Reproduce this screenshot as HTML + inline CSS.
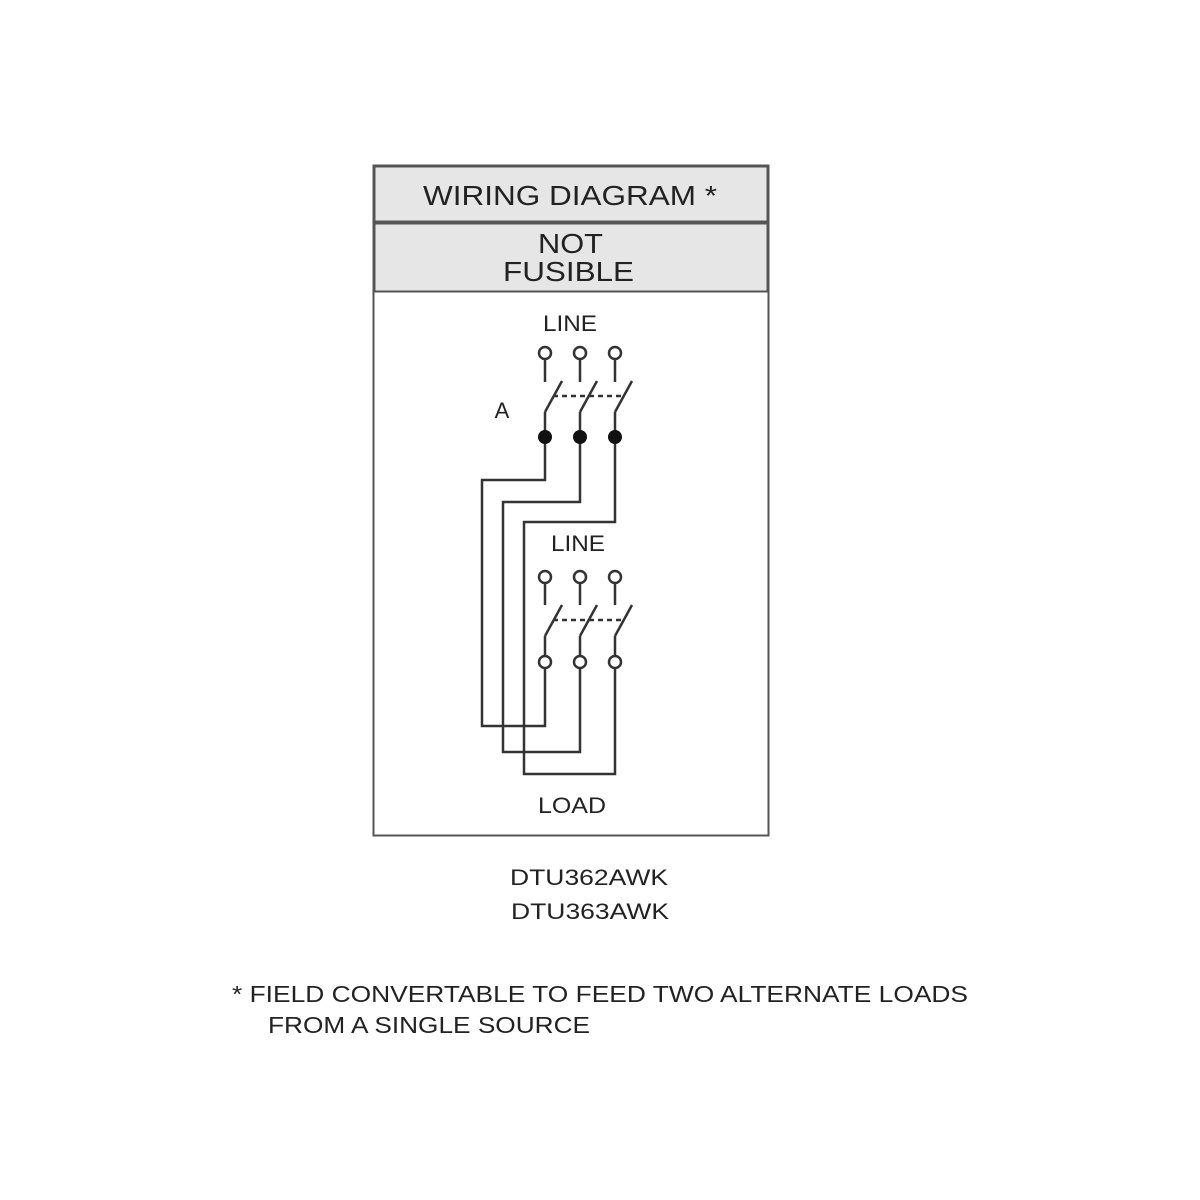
<!DOCTYPE html>
<html><head><style>
body{margin:0;background:#fff;}
svg{display:block}
text{font-family:"Liberation Sans",Arial,sans-serif;fill:#222;}
</style></head><body>
<svg width="1200" height="1200" viewBox="0 0 1200 1200">
<rect x="373.5" y="165.5" width="395" height="670" fill="#fff" stroke="#555" stroke-width="2"/>
<rect x="374.5" y="166.5" width="393" height="55" fill="#e6e6e6" stroke="#555" stroke-width="2"/>
<rect x="374.5" y="223.5" width="393" height="68" fill="#e6e6e6" stroke="#555" stroke-width="2"/>
<text x="423" y="205" font-size="28" textLength="294" lengthAdjust="spacingAndGlyphs">WIRING DIAGRAM *</text>
<text x="538" y="253" font-size="28" textLength="65" lengthAdjust="spacingAndGlyphs">NOT</text>
<text x="503" y="281" font-size="28" textLength="131" lengthAdjust="spacingAndGlyphs">FUSIBLE</text>
<text x="543" y="331" font-size="22" textLength="54" lengthAdjust="spacingAndGlyphs">LINE</text>
<text x="502" y="418" font-size="22" text-anchor="middle">A</text>
<text x="551" y="551" font-size="22" textLength="54" lengthAdjust="spacingAndGlyphs">LINE</text>
<text x="538" y="813" font-size="22" textLength="68" lengthAdjust="spacingAndGlyphs">LOAD</text>
<g fill="none" stroke="#333" stroke-width="2.5">
<circle cx="545" cy="353" r="6"/><line x1="545" y1="359" x2="545" y2="382"/>
<line x1="545" y1="412" x2="562" y2="381"/><line x1="545" y1="412" x2="545" y2="437"/>
<circle cx="580" cy="353" r="6"/><line x1="580" y1="359" x2="580" y2="382"/>
<line x1="580" y1="412" x2="597" y2="381"/><line x1="580" y1="412" x2="580" y2="437"/>
<circle cx="615" cy="353" r="6"/><line x1="615" y1="359" x2="615" y2="382"/>
<line x1="615" y1="412" x2="632" y2="381"/><line x1="615" y1="412" x2="615" y2="437"/>
<line x1="553" y1="396" x2="622" y2="396" stroke-dasharray="5,4"/>
<circle cx="545" cy="577" r="6"/><line x1="545" y1="583" x2="545" y2="605"/>
<line x1="545" y1="636" x2="562" y2="605"/><line x1="545" y1="636" x2="545" y2="656"/>
<circle cx="580" cy="577" r="6"/><line x1="580" y1="583" x2="580" y2="605"/>
<line x1="580" y1="636" x2="597" y2="605"/><line x1="580" y1="636" x2="580" y2="656"/>
<circle cx="615" cy="577" r="6"/><line x1="615" y1="583" x2="615" y2="605"/>
<line x1="615" y1="636" x2="632" y2="605"/><line x1="615" y1="636" x2="615" y2="656"/>
<line x1="553" y1="620" x2="622" y2="620" stroke-dasharray="5,4"/>
<circle cx="545" cy="662" r="6"/><circle cx="580" cy="662" r="6"/><circle cx="615" cy="662" r="6"/>
<polyline points="545,437 545,480 482,480 482,726 545,726 545,668"/>
<polyline points="580,437 580,502 503,502 503,752 580,752 580,668"/>
<polyline points="615,437 615,522 524,522 524,774 615,774 615,668"/>
</g>
<circle cx="545" cy="437" r="7" fill="#111"/>
<circle cx="580" cy="437" r="7" fill="#111"/>
<circle cx="615" cy="437" r="7" fill="#111"/>
<text x="510" y="885" font-size="22" textLength="158" lengthAdjust="spacingAndGlyphs">DTU362AWK</text>
<text x="511" y="919" font-size="22" textLength="158" lengthAdjust="spacingAndGlyphs">DTU363AWK</text>
<text x="232" y="1002" font-size="23" textLength="736" lengthAdjust="spacingAndGlyphs">* FIELD CONVERTABLE TO FEED TWO ALTERNATE LOADS</text>
<text x="268" y="1033" font-size="23" textLength="322" lengthAdjust="spacingAndGlyphs">FROM A SINGLE SOURCE</text>
</svg>
</body></html>
